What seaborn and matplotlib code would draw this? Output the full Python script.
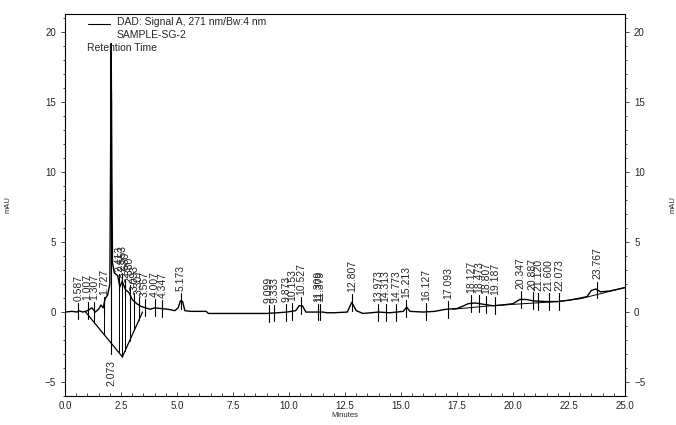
import numpy as np
import pandas as pd
import matplotlib
matplotlib.use("Agg")
import matplotlib.pyplot as plt
import seaborn as sns
from matplotlib.ticker import MultipleLocator, FormatStrFormatter

# ---- data ----
time_min = [0.0, 0.3, 0.55, 0.6, 0.8, 1.0, 1.2, 1.35, 1.5, 1.6, 1.7, 1.8, 1.9, 2.0, 2.03,
            2.06, 2.09, 2.12, 2.2, 2.35, 2.45, 2.55, 2.7, 2.85, 3.0, 3.2, 3.4, 3.6, 3.8,
            4.0, 4.3, 4.6, 4.9, 5.05, 5.15, 5.25, 5.35, 5.6, 6.3, 6.4, 9.0, 9.5, 9.9,
            10.3, 10.45, 10.6, 10.75, 11.5, 11.7, 12.0, 12.6, 12.8, 13.0, 13.3, 14.0,
            14.5, 15.1, 15.25, 15.4, 16.0, 16.5, 17.0, 17.5, 17.8, 18.0, 18.3, 18.7,
            19.1, 19.5, 20.0, 20.3, 20.6, 20.9, 21.5, 22.0, 22.5, 23.0, 23.3, 23.5,
            23.7, 23.9, 24.3, 25.0]
signal_mau = [0.0, 0.05, 0.0, 0.1, 0.0, 0.1, 0.3, 0.0, 0.2, 0.5, 0.3, 1.0, 1.2, 2.0, 10.0,
              19.2, 10.0, 3.5, 2.8, 2.6, 1.8, 2.2, 1.6, 1.4, 0.9, 0.6, 0.4, 0.3, 0.2,
              0.3, 0.25, 0.2, 0.1, 0.3, 0.8, 0.75, 0.1, 0.05, 0.05, -0.1, -0.1, -0.05, 0.0,
              0.1, 0.45, 0.45, 0.0, 0.0, -0.05, -0.05, 0.0, 0.7, 0.1, -0.1, 0.0,
              -0.05, 0.05, 0.35, 0.05, 0.0, 0.05, 0.2, 0.25, 0.45, 0.6, 0.65, 0.55,
              0.45, 0.5, 0.6, 0.9, 0.9, 0.8, 0.75, 0.75, 0.85, 1.0, 1.1, 1.55,
              1.65, 1.45, 1.5, 1.75]

peak_times = [0.587, 1.007, 1.307, 1.727, 2.073, 2.413, 2.553, 2.680, 2.880, 3.093,
              3.307, 3.567, 4.007, 4.347, 5.173, 9.099, 9.333, 9.873, 10.153, 10.527,
              11.309, 11.379, 12.807, 13.973, 14.313, 14.773, 15.213, 16.127, 17.093,
              18.127, 18.473, 18.807, 19.187, 20.347, 20.887, 21.120, 21.600, 22.073,
              23.767]
peak_labels = ["0.587", "1.007", "1.307", "1.727", "2.073", "2.413", "2.553", "2.680",
               "2.880", "3.093", "3.307", "3.567", "4.007", "4.347", "5.173", "9.099",
               "9.333", "9.873", "10.153", "10.527", "11.309", "11.379", "12.807",
               "13.973", "14.313", "14.773", "15.213", "16.127", "17.093", "18.127",
               "18.473", "18.807", "19.187", "20.347", "20.887", "21.120", "21.600",
               "22.073", "23.767"]

# integration baselines (drawn by the integrator)
base1_t = [0.92, 2.56, 3.46]
base1_y = [0.0, -3.2, 0.0]
base2_t = [17.3, 19.0, 20.0, 22.0, 23.0, 25.0]
base2_y = [0.2, 0.45, 0.55, 0.75, 0.95, 1.75]

df = pd.DataFrame({"Minutes": time_min, "mAU": signal_mau})

sns.set_style("ticks")
plt.rcParams["font.family"] = ["Liberation Sans", "DejaVu Sans"]

fig = plt.figure(figsize=(6.76, 4.25), dpi=100)
ax = fig.add_axes([0.0962, 0.0682, 0.8284, 0.8988])

sns.lineplot(data=df, x="Minutes", y="mAU", ax=ax, color="black", lw=1.0,
             estimator=None, sort=False)
sns.lineplot(x=base1_t, y=base1_y, ax=ax, color="black", lw=0.9, estimator=None, sort=False)
sns.lineplot(x=base2_t, y=base2_y, ax=ax, color="black", lw=0.7, estimator=None, sort=False)

sig = np.interp(peak_times, time_min, signal_mau)
for pt, s, lab in zip(peak_times, sig, peak_labels):
    ax.plot([pt, pt], [s - 0.6, s + 0.6], color="black", lw=0.8)
    if pt == 2.073:
        ax.plot([pt, pt], [s, -3.0], color="black", lw=0.8)
        ax.text(pt, -3.45, lab, rotation=90, ha="center", va="top", fontsize=7.5)
        continue
    if base1_t[0] < pt < base1_t[-1]:
        by = np.interp(pt, base1_t, base1_y)
        ax.plot([pt, pt], [by, s], color="black", lw=0.7)
    ax.text(pt, s + 0.75, lab, rotation=90, ha="center", va="bottom", fontsize=7.5)

ax.set_xlim(0, 25)
ax.set_ylim(-6.0, 21.3)
ax.xaxis.set_major_locator(MultipleLocator(2.5))
ax.xaxis.set_minor_locator(MultipleLocator(0.5))
ax.yaxis.set_major_locator(MultipleLocator(5))
ax.yaxis.set_minor_locator(MultipleLocator(1))
ax.xaxis.set_major_formatter(FormatStrFormatter("%.1f"))
ax.tick_params(axis="x", which="both", direction="in", labelsize=7, length=3, width=0.6)
ax.tick_params(axis="x", which="minor", length=2)
ax.tick_params(axis="y", which="both", direction="out", labelsize=7, left=True, right=True,
               labelleft=True, labelright=True, length=3, width=0.6)
ax.tick_params(axis="y", which="minor", length=1.5)
for sp in ax.spines.values():
    sp.set_visible(True)
    sp.set_linewidth(0.8)
    sp.set_color("black")

ax.set_xlabel("Minutes", fontsize=5.5, labelpad=1)
ax.set_ylabel("")

# header block
fig.add_artist(plt.Line2D([88/676, 110/676], [1-24/425, 1-24/425], color="black", lw=0.8))
fig.text(117/676, 1-22/425, "DAD: Signal A, 271 nm/Bw:4 nm", fontsize=7.5, va="center")
fig.text(117/676, 1-35/425, "SAMPLE-SG-2", fontsize=7.5, va="center")
fig.text(87/676, 1-48/425, "Retention Time", fontsize=7.5, va="center")
fig.text(8/676, 1-205/425, "mAU", fontsize=5.5, rotation=90, va="center", ha="center")
fig.text(670/676, 1-205/425, "mAU", fontsize=5.5, rotation=90, va="center", ha="left")

fig.savefig("out.png", dpi=100)
